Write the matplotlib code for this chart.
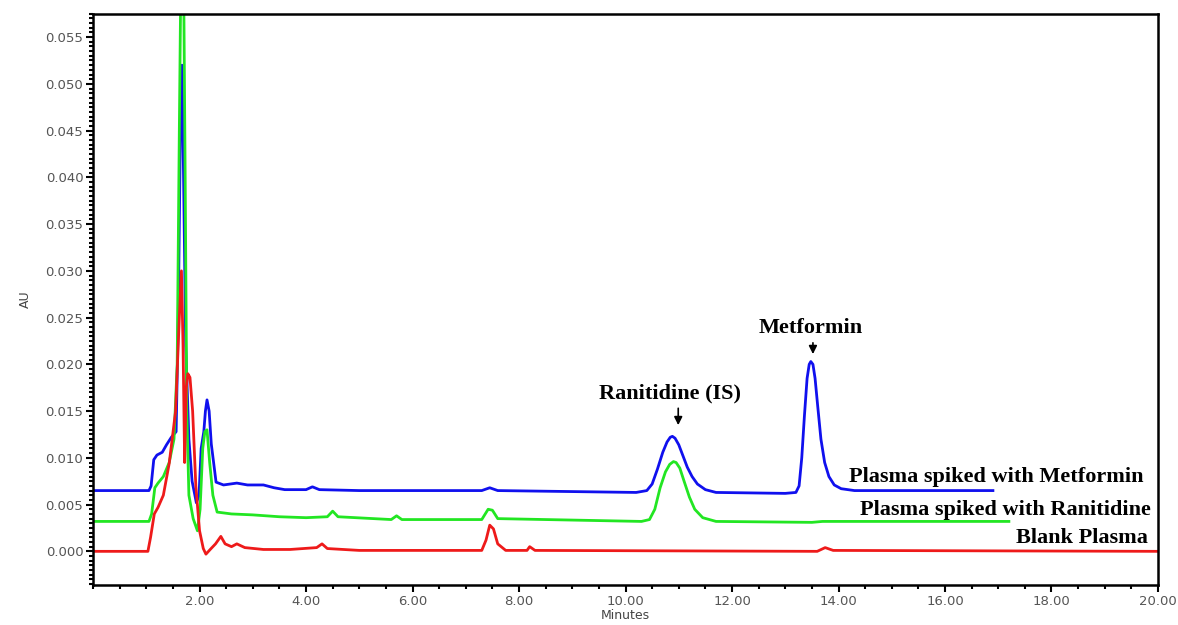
import numpy as np
import matplotlib.pyplot as plt
from matplotlib.ticker import MultipleLocator, FormatStrFormatter, FixedLocator

# chromatogram traces (minutes, AU)
blue_t = [0.0, 1.05, 1.09, 1.14, 1.2, 1.3, 1.38, 1.47, 1.56, 1.6, 1.64, 1.67, 1.7, 1.74, 1.8,
          1.86, 1.94, 1.99, 2.03, 2.08, 2.11, 2.14, 2.18, 2.22, 2.31, 2.45, 2.7, 2.9, 3.2, 3.4,
          3.6, 4.0, 4.12, 4.25, 5.0, 7.3, 7.45, 7.6, 10.2, 10.4, 10.5, 10.6, 10.7, 10.78, 10.84,
          10.88, 10.93, 11.0, 11.08, 11.16, 11.25, 11.35, 11.5, 11.7, 13.0, 13.2, 13.26, 13.31,
          13.36, 13.41, 13.45, 13.48, 13.52, 13.56, 13.61, 13.67, 13.74, 13.82, 13.92, 14.05,
          14.3, 16.9]
blue_au = [0.0065, 0.0065, 0.0070, 0.0098, 0.0103, 0.0106, 0.0114, 0.0122, 0.0128, 0.025,
           0.045, 0.052, 0.040, 0.022, 0.012, 0.0075, 0.0052, 0.0060, 0.0110, 0.0128, 0.0150,
           0.0162, 0.0150, 0.0115, 0.0074, 0.0071, 0.0073, 0.0071, 0.0071, 0.0068, 0.0066,
           0.0066, 0.0069, 0.0066, 0.0065, 0.0065, 0.0068, 0.0065, 0.0063, 0.0065, 0.0072,
           0.0088, 0.0106, 0.0117, 0.0122, 0.0123, 0.0121, 0.0114, 0.0102, 0.0090, 0.0080,
           0.0072, 0.0066, 0.0063, 0.0062, 0.0063, 0.0070, 0.0100, 0.0145, 0.0185, 0.0200,
           0.0203, 0.0200, 0.0185, 0.0155, 0.0120, 0.0095, 0.0080, 0.0071, 0.0067, 0.0065,
           0.0065]

green_t = [0.0, 1.05, 1.1, 1.16, 1.22, 1.32, 1.43, 1.52, 1.58, 1.62, 1.65, 1.7, 1.73, 1.76,
           1.8, 1.88, 1.96, 2.01, 2.06, 2.1, 2.14, 2.19, 2.25, 2.33, 2.6, 3.0, 3.5, 4.0, 4.4,
           4.5, 4.6, 5.6, 5.7, 5.8, 7.3, 7.42, 7.5, 7.6, 10.3, 10.45, 10.55, 10.65, 10.75,
           10.83, 10.9, 10.95, 11.02, 11.1, 11.2, 11.3, 11.45, 11.7, 13.5, 13.7, 17.2]
green_au = [0.0032, 0.0032, 0.0040, 0.0068, 0.0073, 0.0080, 0.0095, 0.0120, 0.020, 0.045,
            0.062, 0.062, 0.040, 0.015, 0.006, 0.0035, 0.0022, 0.0045, 0.0110, 0.0128,
            0.0130, 0.0095, 0.0060, 0.0042, 0.0040, 0.0039, 0.0037, 0.0036, 0.0037, 0.0043,
            0.0037, 0.0034, 0.0038, 0.0034, 0.0034, 0.0045, 0.0044, 0.0035, 0.0032, 0.0034,
            0.0045, 0.0068, 0.0085, 0.0093, 0.0096, 0.0095, 0.0089, 0.0075, 0.0058, 0.0045,
            0.0036, 0.0032, 0.0031, 0.0032, 0.0032]

red_t = [0.0, 1.03, 1.08, 1.15, 1.22, 1.32, 1.43, 1.55, 1.62, 1.66, 1.69, 1.72, 1.75, 1.78,
         1.82, 1.87, 1.93, 2.0, 2.07, 2.12, 2.2, 2.3, 2.4, 2.48, 2.6, 2.7, 2.85, 3.2, 3.7,
         4.2, 4.3, 4.4, 5.0, 7.3, 7.38, 7.45, 7.52, 7.6, 7.75, 8.15, 8.2, 8.3, 13.6, 13.75,
         13.9, 20.0]
red_au = [0.0, 0.0, 0.0015, 0.0040, 0.0047, 0.0060, 0.0094, 0.0150, 0.025, 0.0300, 0.022,
          0.0095, 0.0175, 0.0190, 0.0186, 0.0150, 0.0070, 0.0022, 0.0003, -0.0003, 0.0002,
          0.0008, 0.0016, 0.0008, 0.0005, 0.0008, 0.0004, 0.0002, 0.0002, 0.0004, 0.0008,
          0.0003, 0.0001, 0.0001, 0.0012, 0.0028, 0.0024, 0.0008, 0.0001, 0.0001, 0.0005,
          0.0001, 0.0, 0.0004, 0.0001, 0.0]

peak_names = ["Ranitidine (IS)", "Metformin"]
peak_text_t = [10.84, 13.47]
peak_text_au = [0.0169, 0.0239]
arrow_t = [10.99, 13.52]
arrow_from = [0.0156, 0.0226]
arrow_to = [0.0132, 0.0208]

trace_labels = ["Plasma spiked with Metformin", "Plasma spiked with Ranitidine", "Blank Plasma"]
label_t = [19.73, 19.87, 19.81]
label_au = [0.0079, 0.0044, 0.0014]

x_ticks = [2, 4, 6, 8, 10, 12, 14, 16, 18, 20]

fig = plt.figure(figsize=(11.78, 6.25), dpi=100)
ax = fig.add_axes([0.079, 0.064, 0.904, 0.914])

ax.plot(blue_t, blue_au, color="#1010ee", lw=2)
ax.plot(green_t, green_au, color="#22e622", lw=2)
ax.plot(red_t, red_au, color="#ee1a1a", lw=2)

ax.xaxis.set_major_locator(FixedLocator(x_ticks))
ax.xaxis.set_minor_locator(MultipleLocator(0.5))
ax.yaxis.set_major_locator(MultipleLocator(0.005))
ax.yaxis.set_minor_locator(MultipleLocator(0.0005))
ax.xaxis.set_major_formatter(FormatStrFormatter("%.2f"))
ax.yaxis.set_major_formatter(FormatStrFormatter("%.3f"))
ax.set_xlim(0, 20)
ax.set_ylim(-0.0036, 0.0575)
ax.tick_params(which="major", direction="out", length=5, width=1.5, labelsize=9.5,
               labelcolor="#555555", pad=2)
ax.tick_params(which="minor", direction="out", length=3, width=1.5)
for s in ax.spines.values():
    s.set_linewidth(1.8)

ax.set_xlabel("Minutes", fontsize=9, color="#444444", labelpad=1)
ax.set_ylabel("AU", fontsize=9, color="#444444", labelpad=10)

bold = dict(family="Liberation Serif", fontweight="bold", fontsize=16)
for name, tx, ty, at, a0, a1 in zip(peak_names, peak_text_t, peak_text_au, arrow_t, arrow_from, arrow_to):
    ax.annotate("", xy=(at, a1), xytext=(at, a0),
                arrowprops=dict(arrowstyle="-|>", color="black", lw=1.2, mutation_scale=12))
    ax.text(tx, ty, name, ha="center", va="center", **bold)

for lab, x, y in zip(trace_labels, label_t, label_au):
    ax.text(x, y, lab, ha="right", va="center", **bold)

plt.savefig("out.png", dpi=100)
